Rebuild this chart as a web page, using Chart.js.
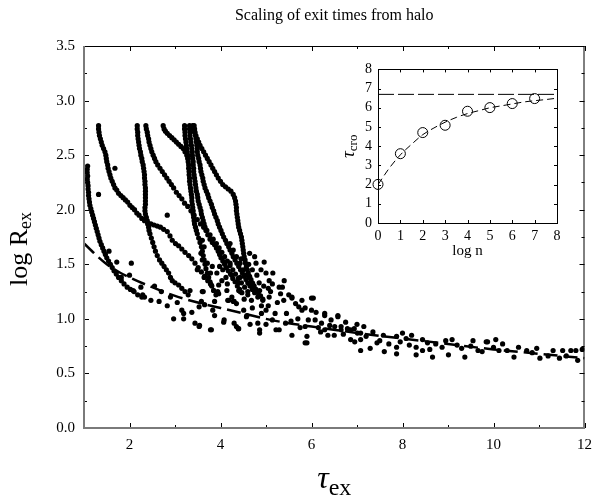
<!DOCTYPE html>
<html>
<head>
<meta charset="utf-8">
<script src="https://cdn.jsdelivr.net/npm/chart.js@4.4.1/dist/chart.umd.min.js"></script>
<style>
html,body{margin:0;padding:0;background:#fff;overflow:hidden;}
#wrap{position:relative;width:600px;height:502px;}
#main{position:absolute;left:0;top:0;width:600px;height:502px;}
#inset{position:absolute;left:330px;top:55px;width:250px;height:210px;}
</style>
</head>
<body>
<div id="wrap">
<canvas id="main" width="600" height="502"></canvas>
<canvas id="inset" width="250" height="210"></canvas>
</div>
<script>
// ---------- Main chart data (tau_ex, log R_ex) ----------
const branchA = [[1.08,2.40],[1.07,2.37],[1.07,2.34],[1.08,2.31],[1.07,2.28],[1.08,2.25],[1.09,2.22],[1.09,2.19],[1.10,2.16],[1.10,2.13],[1.11,2.10],[1.12,2.07],[1.13,2.04],[1.15,2.01],[1.17,1.98],[1.19,1.95],[1.21,1.92],[1.23,1.89],[1.25,1.86],[1.27,1.83],[1.29,1.80],[1.31,1.77],[1.33,1.74],[1.35,1.71],[1.38,1.68],[1.41,1.65],[1.44,1.62],[1.47,1.59],[1.50,1.56],[1.54,1.53],[1.58,1.50],[1.62,1.47],[1.66,1.44],[1.71,1.41],[1.76,1.38],[1.82,1.35],[1.88,1.32],[1.95,1.29],[2.02,1.27],[2.10,1.25],[2.18,1.22],[2.27,1.20]];
const branchB = [[1.32,2.77],[1.32,2.74],[1.33,2.71],[1.34,2.68],[1.36,2.65],[1.38,2.62],[1.40,2.59],[1.43,2.56],[1.46,2.53],[1.48,2.50],[1.49,2.47],[1.50,2.44],[1.52,2.41],[1.53,2.38],[1.55,2.35],[1.57,2.32],[1.59,2.29],[1.62,2.26],[1.65,2.23],[1.68,2.20],[1.72,2.18],[1.76,2.15],[1.81,2.13],[1.86,2.11],[1.91,2.09],[1.96,2.07],[2.01,2.04],[2.06,2.02],[2.11,2.00],[2.16,1.97],[2.21,1.95],[2.27,1.92],[2.33,1.90],[2.40,1.88],[2.47,1.87],[2.54,1.86],[2.61,1.85],[2.68,1.84],[2.75,1.82],[2.83,1.80],[2.89,1.76],[2.94,1.72],[3.01,1.69],[3.08,1.67],[3.15,1.64],[3.22,1.61],[3.30,1.58],[3.37,1.55],[3.44,1.51],[3.51,1.47],[3.58,1.43],[3.65,1.39],[3.72,1.35],[3.80,1.31]];
const branchC = [[2.17,2.77],[2.17,2.74],[2.18,2.71],[2.18,2.68],[2.19,2.65],[2.20,2.62],[2.21,2.59],[2.22,2.56],[2.24,2.53],[2.25,2.50],[2.27,2.47],[2.28,2.44],[2.30,2.41],[2.31,2.38],[2.32,2.35],[2.33,2.32],[2.33,2.29],[2.34,2.26],[2.34,2.23],[2.35,2.20],[2.35,2.17],[2.35,2.14],[2.35,2.11],[2.35,2.08],[2.35,2.05],[2.34,2.02],[2.34,1.99],[2.35,1.96],[2.37,1.93],[2.39,1.90],[2.40,1.87],[2.42,1.84],[2.43,1.81],[2.45,1.78],[2.48,1.74],[2.51,1.70],[2.54,1.66],[2.57,1.62],[2.61,1.58],[2.66,1.54],[2.71,1.51],[2.76,1.48],[2.81,1.45],[2.86,1.42],[2.90,1.38],[2.94,1.35],[3.00,1.33],[3.08,1.31],[3.15,1.28],[3.22,1.25]];
const branchD = [[2.36,2.77],[2.37,2.74],[2.39,2.71],[2.40,2.68],[2.42,2.65],[2.43,2.62],[2.45,2.59],[2.47,2.56],[2.49,2.53],[2.52,2.50],[2.55,2.47],[2.58,2.44],[2.62,2.41],[2.67,2.38],[2.72,2.35],[2.77,2.32],[2.82,2.29],[2.87,2.26],[2.92,2.23],[2.97,2.20],[3.03,2.16],[3.09,2.13],[3.15,2.10],[3.21,2.06],[3.28,2.03],[3.35,1.99],[3.42,1.95],[3.49,1.91],[3.56,1.87],[3.63,1.84],[3.70,1.81],[3.77,1.77],[3.84,1.73],[3.91,1.69],[3.97,1.65],[4.03,1.61],[4.09,1.57],[4.15,1.53],[4.21,1.49],[4.27,1.45],[4.33,1.41],[4.39,1.37],[4.46,1.33],[4.53,1.29],[4.60,1.25]];
const branchE = [[2.74,2.77],[2.76,2.74],[2.79,2.72],[2.83,2.70],[2.88,2.68],[2.93,2.66],[2.98,2.64],[3.03,2.62],[3.08,2.60],[3.13,2.58],[3.18,2.56],[3.22,2.53],[3.26,2.50],[3.29,2.47]];
const branchF1 = [[3.21,2.77],[3.21,2.74],[3.22,2.71],[3.22,2.68],[3.23,2.65],[3.24,2.62],[3.25,2.59],[3.26,2.56],[3.27,2.53],[3.28,2.50],[3.28,2.47],[3.29,2.44],[3.30,2.41],[3.30,2.38],[3.31,2.35],[3.31,2.32],[3.32,2.29],[3.32,2.26],[3.33,2.23],[3.34,2.20],[3.35,2.17],[3.36,2.14],[3.37,2.11],[3.37,2.08],[3.38,2.05],[3.39,2.02],[3.40,1.99],[3.40,1.96],[3.41,1.93],[3.42,1.90],[3.43,1.87],[3.45,1.84],[3.47,1.81],[3.49,1.78],[3.52,1.74],[3.55,1.70],[3.58,1.66],[3.60,1.62],[3.62,1.58],[3.64,1.54],[3.66,1.50],[3.68,1.46],[3.71,1.42],[3.74,1.38],[3.77,1.34],[3.81,1.30],[3.85,1.26],[3.90,1.22]];
const branchF2 = [[3.32,2.77],[3.32,2.74],[3.33,2.71],[3.33,2.68],[3.34,2.65],[3.35,2.62],[3.36,2.59],[3.37,2.56],[3.38,2.53],[3.38,2.50],[3.39,2.47],[3.40,2.44],[3.40,2.41],[3.41,2.38],[3.41,2.35],[3.42,2.32],[3.43,2.29],[3.44,2.26],[3.45,2.23],[3.46,2.20],[3.47,2.17],[3.49,2.14],[3.50,2.11],[3.51,2.08],[3.53,2.05],[3.55,2.02],[3.57,1.99],[3.58,1.96],[3.60,1.93],[3.62,1.90],[3.64,1.87],[3.66,1.84],[3.68,1.81],[3.72,1.77],[3.77,1.73],[3.82,1.70],[3.87,1.68],[3.91,1.65],[3.95,1.62],[3.98,1.59],[4.01,1.56],[4.05,1.53],[4.09,1.50],[4.13,1.47],[4.17,1.44],[4.22,1.41],[4.27,1.37],[4.32,1.34],[4.37,1.30],[4.42,1.27],[4.47,1.24]];
const branchF3 = [[3.42,2.77],[3.43,2.74],[3.44,2.71],[3.45,2.68],[3.46,2.65],[3.47,2.62],[3.48,2.59],[3.49,2.56],[3.49,2.53],[3.50,2.50],[3.52,2.47],[3.53,2.44],[3.55,2.41],[3.56,2.38],[3.57,2.35],[3.59,2.32],[3.61,2.29],[3.62,2.26],[3.64,2.23],[3.66,2.20],[3.69,2.17],[3.72,2.14],[3.74,2.11],[3.77,2.08],[3.80,2.05],[3.82,2.02],[3.85,1.99],[3.87,1.96],[3.90,1.93],[3.93,1.90],[3.95,1.87],[3.98,1.84],[4.01,1.81],[4.04,1.78],[4.07,1.75],[4.11,1.72],[4.14,1.69],[4.18,1.66],[4.21,1.63],[4.25,1.60],[4.28,1.57],[4.32,1.54],[4.36,1.51],[4.40,1.48],[4.44,1.45],[4.48,1.42],[4.52,1.39],[4.56,1.36],[4.60,1.33],[4.65,1.30],[4.70,1.27],[4.75,1.24]];
const branchF4 = [[3.39,2.77],[3.41,2.74],[3.43,2.71],[3.46,2.68],[3.49,2.65],[3.52,2.62],[3.55,2.59],[3.59,2.56],[3.63,2.53],[3.67,2.50],[3.71,2.47],[3.75,2.44],[3.79,2.41],[3.83,2.38],[3.87,2.35],[3.91,2.32],[3.95,2.29],[4.00,2.26],[4.05,2.23],[4.11,2.21],[4.17,2.19],[4.23,2.17],[4.28,2.14],[4.31,2.11],[4.33,2.08],[4.34,2.05],[4.35,2.02],[4.35,1.99],[4.36,1.96],[4.37,1.93],[4.38,1.90],[4.39,1.87],[4.40,1.84],[4.42,1.81],[4.44,1.78],[4.46,1.75],[4.47,1.72],[4.48,1.69],[4.49,1.66],[4.50,1.63],[4.51,1.60],[4.52,1.57],[4.54,1.54],[4.55,1.51],[4.57,1.48],[4.59,1.45],[4.61,1.42],[4.64,1.39],[4.67,1.36],[4.70,1.33],[4.74,1.30],[4.78,1.27],[4.83,1.24],[4.88,1.21],[4.93,1.18]];
const bandLeft = [[1.32,2.14],[1.68,2.38],[2.83,1.95],[1.72,1.52],[2.04,1.51],[2.00,1.40],[1.82,1.38],[2.25,1.29],[2.29,1.22],[2.08,1.26],[2.33,1.20],[2.47,1.17],[2.65,1.16],[2.83,1.12],[2.97,1.00],[3.19,1.00],[3.19,1.05],[3.37,1.06],[3.44,0.96],[3.54,0.94],[3.80,0.90],[3.87,1.03],[4.08,0.99],[4.30,0.96],[4.40,0.91],[3.29,1.22],[3.33,1.26],[3.62,1.25],[3.58,1.16],[3.65,1.13],[3.83,1.08],[3.87,1.16],[3.94,1.25],[4.16,1.17],[4.30,1.16],[4.40,1.26],[4.51,1.08],[4.58,1.03],[3.15,1.08],[2.55,1.30],[2.70,1.25],[2.90,1.20],[3.05,1.15],[1.55,1.62]];
const bandMid = [[3.60,1.72],[3.64,1.66],[3.57,1.60],[3.60,1.54],[3.71,1.51],[3.82,1.48],[3.78,1.42],[3.92,1.42],[4.03,1.35],[3.96,1.31],[4.14,1.26],[4.25,1.20],[4.35,1.14],[3.49,1.45],[3.64,1.38],[3.78,1.32],[3.85,1.26],[3.96,1.23],[3.60,1.25],[3.53,1.11],[3.53,0.93],[3.78,0.90],[4.07,0.97],[4.18,1.17],[4.28,1.16],[4.43,1.25],[4.57,1.02],[4.39,0.91],[4.82,0.96],[4.86,0.87],[5.22,0.90],[5.57,0.85],[5.90,0.84],[5.90,0.78],[4.21,1.69],[4.28,1.63],[4.35,1.57],[4.43,1.51],[4.50,1.45],[4.64,1.38],[4.71,1.32],[4.78,1.26],[4.82,1.20],[4.93,1.17],[5.00,1.08],[4.64,1.60],[4.75,1.57],[4.78,1.51],[4.89,1.45],[4.96,1.52],[5.00,1.42],[5.07,1.35],[5.14,1.32],[5.29,1.29],[5.32,1.23],[5.39,1.17],[5.50,1.22],[5.57,1.19],[5.65,1.14],[5.72,1.11],[5.79,1.08],[5.86,1.10],[6.00,1.19],[5.93,0.99],[6.08,0.99],[6.22,0.96],[6.29,1.03],[6.43,0.99],[6.58,1.02],[6.51,0.93],[6.65,0.90],[6.79,0.91],[6.94,0.91],[7.01,0.87],[7.08,0.81],[6.86,0.81],[6.29,0.90],[6.36,0.85],[5.86,0.93],[5.43,0.96],[5.14,0.99],[5.05,1.12],[5.20,1.05],[5.25,1.15],[5.45,1.05],[5.55,0.98],[5.70,1.00],[5.75,0.92],[6.10,1.06],[6.20,0.88],[6.50,0.85],[6.75,0.97],[7.00,0.95],[5.00,0.95],[4.70,1.10],[4.90,1.05],[4.65,0.95],[4.95,1.30],[5.15,1.42],[5.10,1.25],[5.40,1.35],[4.45,1.55],[4.55,1.40],[4.62,1.50],[4.70,1.45],[4.80,1.40],[4.85,1.33],[4.60,1.22],[4.68,1.17],[4.52,1.18],[4.40,1.33],[4.90,1.12],[5.05,1.28],[4.25,1.40],[4.12,1.38],[4.05,1.45],[3.98,1.48],[4.15,1.32]];
const bandRight = [[4.21,1.51],[4.43,1.38],[4.64,1.32],[4.86,1.26],[5.07,1.20],[5.36,1.29],[5.57,1.20],[5.79,1.17],[6.04,1.19],[6.00,1.08],[6.29,1.05],[6.58,1.03],[6.65,0.93],[6.86,0.90],[7.08,0.87],[7.08,0.71],[7.29,0.73],[7.58,0.85],[7.87,0.84],[7.87,0.68],[7.87,0.74],[8.08,0.82],[8.30,0.74],[8.44,0.81],[8.30,0.67],[8.66,0.65],[8.73,0.77],[8.87,0.74],[9.01,0.67],[9.09,0.81],[9.30,0.73],[9.37,0.65],[9.66,0.71],[9.84,0.79],[10.05,0.81],[10.12,0.71],[10.30,0.71],[10.45,0.65],[10.73,0.71],[11.02,0.64],[11.31,0.71],[11.52,0.71],[11.81,0.71],[11.45,0.64],[11.85,0.62],[5.86,0.78],[5.29,0.90],[4.86,0.90],[4.35,0.93],[7.44,0.78],[8.44,0.71],[9.87,0.79],[6.15,0.92],[6.40,0.94],[6.70,0.86],[7.20,0.84],[7.35,0.88],[7.50,0.80],[7.70,0.77],[7.95,0.79],[8.15,0.76],[8.20,0.85],[8.55,0.78],[8.60,0.72],[8.95,0.80],[9.20,0.76],[9.50,0.75],[9.55,0.80],[9.75,0.70],[10.00,0.74],[10.20,0.77],[10.55,0.74],[10.85,0.69],[10.95,0.73],[11.20,0.66],[11.60,0.66],[11.70,0.71],[11.95,0.72],[7.15,0.93],[6.95,0.79],[7.60,0.70],[8.00,0.87]];

// dashed fit in main panel
const fitX = [1, 1.5, 2, 2.5, 3, 3.5, 4, 4.5, 5, 5.5, 6, 7, 8, 9, 10, 11, 12];
const fitY = [1.69, 1.50, 1.38, 1.29, 1.21, 1.15, 1.10, 1.05, 1.00, 0.96, 0.93, 0.87, 0.82, 0.77, 0.72, 0.68, 0.64];

// main axis ticks
const xTickMajor = [2, 4, 6, 8, 10, 12];
const yTickMajor = [0.0, 0.5, 1.0, 1.5, 2.0, 2.5, 3.0, 3.5];

// ---------- Inset data ----------
const logN = [0, 1, 2, 3, 4, 5, 6, 7];
const tauCro = [2.01, 3.61, 4.71, 5.09, 5.82, 6.01, 6.22, 6.48];
const insetFitX = [0, 0.5, 1, 1.5, 2, 2.5, 3, 3.5, 4, 4.5, 5, 5.5, 6, 6.5, 7, 7.5, 8];
const insetFitY = [2.0, 2.85, 3.55, 4.1, 4.6, 4.95, 5.25, 5.5, 5.7, 5.85, 6.0, 6.1, 6.2, 6.3, 6.37, 6.43, 6.5];
const tauLimit = 6.7;

const SERIF = '"Liberation Serif", "Times New Roman", Times, serif';

const strands = [branchA, branchB, branchC, branchD, branchE, branchF1, branchF2, branchF3, branchF4, bandLeft, bandMid, bandRight];
const dots = strands.flat().map(p => ({x: p[0], y: p[1]}));

function isMajorY(v){ return yTickMajor.some(m => Math.abs(m - v) < 1e-6); }

const mainDecor = {
  id: 'mainDecor',
  afterDraw(chart){
    const {ctx, chartArea: a, scales: {x, y}} = chart;
    ctx.save();
    const seg = (x1,y1,x2,y2) => { ctx.beginPath(); ctx.moveTo(x1,y1); ctx.lineTo(x2,y2); ctx.stroke(); };
    ctx.strokeStyle = '#000'; ctx.lineWidth = 1;
    x.ticks.forEach(t => {
      const p = Math.round(x.getPixelForValue(t.value)) + 0.5;
      const L = xTickMajor.includes(t.value) ? 5 : 3;
      seg(p, a.bottom, p, a.bottom - L);
      seg(p, a.top, p, a.top + L);
    });
    y.ticks.forEach(t => {
      const p = Math.round(y.getPixelForValue(t.value)) + 0.5;
      const L = isMajorY(t.value) ? 5 : 3;
      seg(a.left, p, a.left + L, p);
      seg(a.right, p, a.right - L, p);
    });
    // frame: top/right black, left/bottom gray
    ctx.strokeStyle = '#000'; ctx.lineWidth = 1;
    seg(a.left, a.top + 0.5, a.right, a.top + 0.5);
    seg(a.right - 0.5, a.top, a.right - 0.5, a.bottom);
    ctx.strokeStyle = '#7a7a7a'; ctx.lineWidth = 2;
    seg(a.left, a.top, a.left, a.bottom + 1);
    seg(a.left - 1, a.bottom, a.right, a.bottom);

    ctx.fillStyle = '#000';
    // title
    ctx.font = '16px ' + SERIF;
    ctx.textAlign = 'center'; ctx.textBaseline = 'alphabetic';
    ctx.fillText('Scaling of exit times from halo', (a.left + a.right) / 2, 20);

    // x-axis label tau_ex
    ctx.textAlign = 'left';
    ctx.font = 'italic 32px ' + SERIF;
    const wt = ctx.measureText('\u03C4').width;
    ctx.font = '24px ' + SERIF;
    const we = ctx.measureText('ex').width;
    const x0 = (a.left + a.right) / 2 - (wt + we) / 2;
    ctx.font = 'italic 32px ' + SERIF;
    ctx.fillText('\u03C4', x0, 488);
    ctx.font = '24px ' + SERIF;
    ctx.fillText('ex', x0 + wt, 495);

    // y-axis label log R_ex
    ctx.save();
    ctx.translate(27, 286);
    ctx.rotate(-Math.PI / 2);
    ctx.font = '26px ' + SERIF;
    ctx.fillText('log R', 0, 0);
    const wl = ctx.measureText('log R').width;
    ctx.font = '18px ' + SERIF;
    ctx.fillText('ex', wl, 4);
    ctx.restore();
    ctx.restore();
  }
};

new Chart(document.getElementById('main'), {
  type: 'scatter',
  data: {
    datasets: [
      {
        data: fitX.map((v, i) => ({x: v, y: fitY[i]})),
        showLine: true, borderColor: '#000', borderWidth: 2.5, borderDash: [14, 6],
        pointRadius: 0, pointHoverRadius: 0, tension: 0.4, cubicInterpolationMode: 'monotone', order: 0
      },
      {
        data: dots, showLine: false, pointRadius: 2.6, pointHoverRadius: 2.6,
        pointBackgroundColor: '#000', pointBorderWidth: 0, borderWidth: 0, order: 1
      }
    ]
  },
  options: {
    responsive: false, animation: false,
    layout: {padding: {top: 46, right: 8, left: 0, bottom: 0}},
    plugins: {legend: {display: false}, tooltip: {enabled: false}, title: {display: false}},
    scales: {
      x: {
        type: 'linear', min: 1, max: 12,
        afterFit(s){ s.height = 74; },
        ticks: {stepSize: 1, autoSkip: false, maxRotation: 0, padding: 8, color: '#000',
          font: {family: SERIF, size: 15},
          callback: v => xTickMajor.includes(v) ? String(v) : ''},
        grid: {display: false, drawTicks: false}, border: {display: false}
      },
      y: {
        type: 'linear', min: 0, max: 3.5,
        afterFit(s){ s.width = 84; },
        ticks: {stepSize: 0.25, autoSkip: false, padding: 9, color: '#000',
          font: {family: SERIF, size: 15},
          callback: v => isMajorY(v) ? v.toFixed(1) : ''},
        grid: {display: false, drawTicks: false}, border: {display: false}
      }
    }
  },
  plugins: [mainDecor]
});

// ---------- Inset ----------
const insetDecor = {
  id: 'insetDecor',
  afterDraw(chart){
    const {ctx, chartArea: a, scales: {x, y}} = chart;
    ctx.save();
    const seg = (x1,y1,x2,y2) => { ctx.beginPath(); ctx.moveTo(x1,y1); ctx.lineTo(x2,y2); ctx.stroke(); };
    ctx.strokeStyle = '#000'; ctx.lineWidth = 1;
    x.ticks.forEach(t => {
      const p = Math.round(x.getPixelForValue(t.value)) + 0.5;
      seg(p, a.bottom, p, a.bottom - 3);
      seg(p, a.top, p, a.top + 3);
    });
    y.ticks.forEach(t => {
      const p = Math.round(y.getPixelForValue(t.value)) + 0.5;
      seg(a.left, p, a.left + 3, p);
      seg(a.right, p, a.right - 3, p);
    });
    ctx.strokeRect(Math.round(a.left) + 0.5, Math.round(a.top) + 0.5, Math.round(a.right - a.left), Math.round(a.bottom - a.top));
    ctx.fillStyle = '#000';
    ctx.font = '15px ' + SERIF;
    ctx.textAlign = 'center'; ctx.textBaseline = 'alphabetic';
    ctx.fillText('log n', (a.left + a.right) / 2, 200);
    ctx.save();
    ctx.translate(24, 103);
    ctx.rotate(-Math.PI / 2);
    ctx.textAlign = 'left';
    ctx.font = 'italic 19px ' + SERIF;
    ctx.fillText('\u03C4', 0, 0);
    const w = ctx.measureText('\u03C4').width;
    ctx.font = '13px ' + SERIF;
    ctx.fillText('cro', w, 3);
    ctx.restore();
    ctx.restore();
  }
};

new Chart(document.getElementById('inset'), {
  type: 'scatter',
  data: {
    datasets: [
      {
        data: logN.map((v, i) => ({x: v, y: tauCro[i]})),
        showLine: false, pointRadius: 5, pointHoverRadius: 5,
        pointBackgroundColor: 'rgba(255,255,255,0)', pointBorderColor: '#000', pointBorderWidth: 1,
        clip: false, order: 0
      },
      {
        data: insetFitX.map((v, i) => ({x: v, y: insetFitY[i]})),
        showLine: true, borderColor: '#000', borderWidth: 1, borderDash: [7, 4],
        pointRadius: 0, pointHoverRadius: 0, tension: 0.4, cubicInterpolationMode: 'monotone', order: 1
      },
      {
        data: [{x: 0, y: tauLimit}, {x: 8, y: tauLimit}],
        showLine: true, borderColor: '#000', borderWidth: 1, borderDash: [16, 4],
        pointRadius: 0, pointHoverRadius: 0, order: 2
      }
    ]
  },
  options: {
    responsive: false, animation: false,
    layout: {padding: {top: 14, right: 23, left: 0, bottom: 0}},
    plugins: {legend: {display: false}, tooltip: {enabled: false}, title: {display: false}},
    scales: {
      x: {
        type: 'linear', min: 0, max: 8,
        afterFit(s){ s.height = 42; },
        ticks: {stepSize: 1, autoSkip: false, maxRotation: 0, padding: 5, color: '#000',
          font: {family: SERIF, size: 14}},
        grid: {display: false, drawTicks: false}, border: {display: false}
      },
      y: {
        type: 'linear', min: 0, max: 8,
        afterFit(s){ s.width = 48; },
        ticks: {stepSize: 1, autoSkip: false, padding: 6, color: '#000',
          font: {family: SERIF, size: 14}},
        grid: {display: false, drawTicks: false}, border: {display: false}
      }
    }
  },
  plugins: [insetDecor]
});
</script>
</body>
</html>
